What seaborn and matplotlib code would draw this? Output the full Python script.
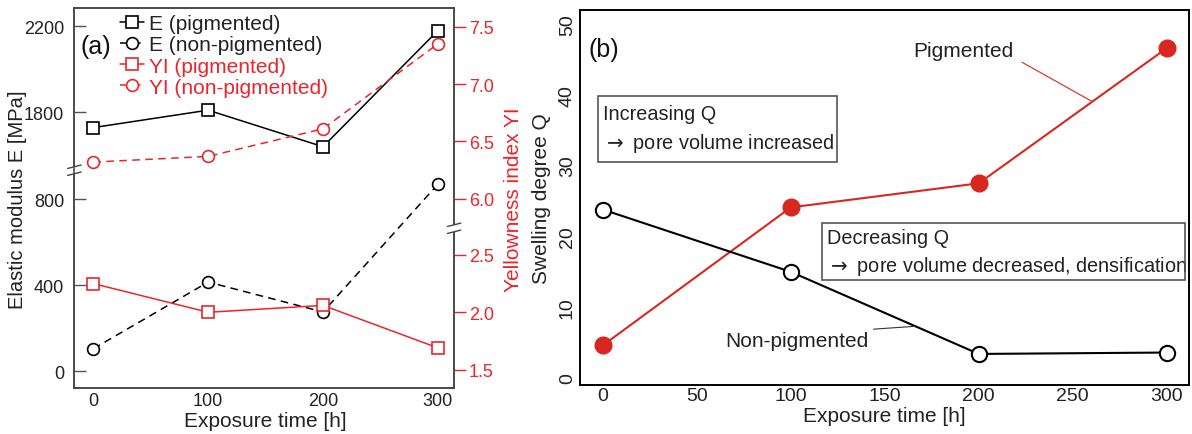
import numpy as np
import matplotlib
matplotlib.use("Agg")
import matplotlib.pyplot as plt
import seaborn as sns
from matplotlib.patches import Rectangle

# ---------------- data ----------------
time_h = [0, 100, 200, 300]
E_pigmented = [1728, 1809, 1639, 2179]
E_non_pigmented = [105, 415, 276, 870]
YI_pigmented = [2.25, 2.00, 2.06, 1.69]
YI_non_pigmented = [6.32, 6.37, 6.61, 7.35]
Q_pigmented = [4.6, 24.1, 27.5, 46.6]
Q_non_pigmented = [23.8, 15.0, 3.4, 3.6]

E_ticks = [0, 400, 800, 1800, 2200]
YI_ticks = [1.5, 2.0, 2.5, 6.0, 6.5, 7.0, 7.5]
time_ticks_a = [0, 100, 200, 300]
time_ticks_b = [0, 50, 100, 150, 200, 250, 300]
Q_ticks = [0, 10, 20, 30, 40, 50]

legend_labels = ["E (pigmented)", "E (non-pigmented)",
                 "YI (pigmented)", "YI (non-pigmented)"]

sns.set_style("white")
plt.rcParams['font.family'] = ['Liberation Sans', 'DejaVu Sans']
plt.rcParams['mathtext.fontset'] = 'dejavusans'

RED_A = '#E8262C'
RED_B = '#D8271F'
FRAME_A = '#444444'
TXT = '#222222'


def broken(lo, hi, s=1e-3):
    w = (hi - lo) * s

    def fwd(v):
        v = np.asarray(v, dtype=float)
        return np.where(v <= lo, v,
                        np.where(v >= hi, v - (hi - lo) + w, lo + (v - lo) * s))

    def inv(u):
        u = np.asarray(u, dtype=float)
        return np.where(u <= lo, u,
                        np.where(u >= lo + w, u + (hi - lo) - w, lo + (u - lo) / s))
    return fwd, inv


fig = plt.figure(figsize=(11.92, 4.35), dpi=100)
ax_a = fig.add_axes([0.0624, 0.1051, 0.3185, 0.8736])
ax_y = ax_a.twinx()
ax_b = fig.add_axes([0.4866, 0.1133, 0.5107, 0.8614])

E_lo, E_hi = 935, 1530
Y_lo, Y_hi = 2.73, 5.745
ax_a.set_yscale('function', functions=broken(E_lo, E_hi))
ax_y.set_yscale('function', functions=broken(Y_lo, Y_hi))

# ---------------- panel (a) ----------------
common = dict(linewidth=1.1, markersize=8.5, markeredgewidth=1.2,
              markerfacecolor='white')
sns.lineplot(x=time_h, y=E_pigmented, ax=ax_a, color='black', marker='s',
             markeredgecolor='black', label=legend_labels[0], **common)
sns.lineplot(x=time_h, y=E_non_pigmented, ax=ax_a, color='black', marker='o',
             markeredgecolor='black', linestyle=(0, (5, 3.5)),
             label=legend_labels[1], **common)
sns.lineplot(x=time_h, y=YI_pigmented, ax=ax_y, color=RED_A, marker='s',
             markeredgecolor=RED_A, label=legend_labels[2], **common)
sns.lineplot(x=time_h, y=YI_non_pigmented, ax=ax_y, color=RED_A, marker='o',
             markeredgecolor=RED_A, linestyle=(0, (5, 3.5)),
             label=legend_labels[3], **common)

for a in (ax_a, ax_y):
    if a.get_legend() is not None:
        a.get_legend().remove()

ax_a.set_xlim(-16.5, 314.1)
ax_a.set_ylim(-79, 2283)
ax_y.set_ylim(1.338, 7.66)
ax_a.set_xticks(time_ticks_a)
ax_a.set_xticklabels([str(t) for t in time_ticks_a])
ax_a.set_yticks(E_ticks)
ax_a.set_yticklabels([str(t) for t in E_ticks])
ax_y.set_yticks(YI_ticks)
ax_y.set_yticklabels([f"{t:.1f}" for t in YI_ticks])
ax_y.minorticks_off()
ax_a.minorticks_off()

ax_a.tick_params(axis='x', direction='in', length=8, width=1, color='#555555',
                 labelsize=13, labelcolor=TXT, pad=3, top=False)
ax_a.tick_params(axis='y', direction='in', length=8.6, width=1, color='#555555',
                 labelsize=13, labelcolor=TXT, pad=7.3, right=False)
ax_y.tick_params(axis='y', direction='out', length=8.6, width=1, color=RED_A,
                 labelsize=13, labelcolor=RED_A, pad=2, left=False)

for a in (ax_a, ax_y):
    for sp in a.spines.values():
        sp.set_color(FRAME_A)
        sp.set_linewidth(1.1)

ax_a.set_xlabel("Exposure time [h]", fontsize=15, color=TXT)
ax_a.xaxis.label.set_va('center')
ax_a.xaxis.set_label_coords(0.502, -0.0853)
ax_a.set_ylabel("Elastic modulus E [MPa]", fontsize=14.5, color=TXT)
ax_a.yaxis.label.set_va('center')
ax_a.yaxis.set_label_coords(-0.151, 0.5)
ax_y.set_ylabel("Yellowness index YI", fontsize=15, color=RED_A)
ax_y.yaxis.label.set_va('center')
ax_y.yaxis.set_label_coords(1.156, 0.5)

handles = list(ax_a.get_lines()) + list(ax_y.get_lines())
leg = ax_y.legend(handles, legend_labels, loc='upper left',
                  bbox_to_anchor=(0.1201, 0.984), frameon=False, fontsize=15,
                  handlelength=1.14, handletextpad=0.24, labelspacing=0.1,
                  borderpad=0, borderaxespad=0)
for txt, col in zip(leg.get_texts(), [TXT, TXT, RED_A, RED_A]):
    txt.set_color(col)

ax_y.text(0.0569, 0.9008, "(a)", transform=ax_y.transAxes, fontsize=18,
          ha='center', va='center', color='#111111')

# axis break marks
fig_w, fig_h = fig.get_size_inches() * fig.dpi


def draw_break(ax, yval, xfrac):
    pos = ax.get_position()
    W, H = pos.width * fig_w, pos.height * fig_h
    yf = (ax.transScale + ax.transLimits).transform((0, yval))[1]
    dx = 6.7 / W
    ax.plot([xfrac, xfrac], [yf - 3.5 / H, yf + 3.5 / H], transform=ax.transAxes,
            color='white', lw=3, clip_on=False, zorder=9, solid_capstyle='butt')
    for off in (-3.5, 3.5):
        ax.plot([xfrac - dx, xfrac + dx],
                [yf + (off - 1.7) / H, yf + (off + 1.7) / H],
                transform=ax.transAxes, color=FRAME_A, lw=1,
                clip_on=False, zorder=10)


draw_break(ax_a, (E_lo + E_hi) / 2, 0.0)
draw_break(ax_y, (Y_lo + Y_hi) / 2, 1.0)

# ---------------- panel (b) ----------------
sns.lineplot(x=time_h, y=Q_pigmented, ax=ax_b, color=RED_B, marker='o',
             markersize=12, markerfacecolor=RED_B, markeredgecolor=RED_B,
             markeredgewidth=1, linewidth=1.5)
sns.lineplot(x=time_h, y=Q_non_pigmented, ax=ax_b, color='black', marker='o',
             markersize=11, markerfacecolor='white', markeredgecolor='black',
             markeredgewidth=1.5, linewidth=1.5)

ax_b.set_xlim(-12.07, 311.7)
ax_b.set_ylim(-0.946, 51.98)
ax_b.set_xticks(time_ticks_b)
ax_b.set_xticklabels([str(t) for t in time_ticks_b])
ax_b.set_yticks(Q_ticks)
ax_b.set_yticklabels([str(t) for t in Q_ticks])
ax_b.tick_params(axis='x', direction='in', length=4, width=1, color='#333333',
                 labelsize=14, labelcolor=TXT, pad=1.7)
ax_b.tick_params(axis='y', direction='in', length=3.6, width=1, color='#333333',
                 labelsize=14, labelcolor=TXT, pad=3)
plt.setp(ax_b.get_yticklabels(), rotation=90, va='center')
for sp in ax_b.spines.values():
    sp.set_color('black')
    sp.set_linewidth(1.4)

ax_b.set_xlabel("Exposure time [h]", fontsize=15, color=TXT)
ax_b.xaxis.label.set_va('center')
ax_b.xaxis.set_label_coords(0.4995, -0.0827)
ax_b.set_ylabel("Swelling degree Q", fontsize=15, color=TXT)
ax_b.yaxis.label.set_va('center')
ax_b.yaxis.set_label_coords(-0.0629, 0.5)

ax_b.text(0.0394, 0.896, "(b)", transform=ax_b.transAxes, fontsize=18,
          ha='center', va='center', color='#111111')

# annotations
ax_b.text(165, 46.2, "Pigmented", fontsize=15, ha='left', va='center',
          color=TXT)
ax_b.plot([223, 260], [44.6, 39.1], color=RED_B, lw=0.8)
ax_b.text(65.1, 5.27, "Non-pigmented", fontsize=15, ha='left', va='center',
          color=TXT)
ax_b.plot([144, 166], [6.9, 7.3], color='#333333', lw=0.8)

BOX_FS = 14.3
ax_b.add_patch(Rectangle((-2.6, 30.46), 127.1, 9.41, fill=False,
                         edgecolor='#555555', lw=1.2, zorder=5))
ax_b.text(0, 37.3, "Increasing Q", fontsize=BOX_FS, ha='left', va='center',
          color=TXT)
ax_b.text(0, 33.3, r"$\rightarrow$ pore volume increased", fontsize=BOX_FS,
          ha='left', va='center', color=TXT)

ax_b.add_patch(Rectangle((116.5, 13.9), 193.4, 8.0, fill=False,
                         edgecolor='#555555', lw=1.2, zorder=5))
ax_b.text(119.1, 19.87, "Decreasing Q", fontsize=BOX_FS, ha='left',
          va='center', color=TXT)
ax_b.text(119.1, 15.86, r"$\rightarrow$ pore volume decreased, densification",
          fontsize=BOX_FS, ha='left', va='center', color=TXT)

fig.savefig("out.png", dpi=100)
